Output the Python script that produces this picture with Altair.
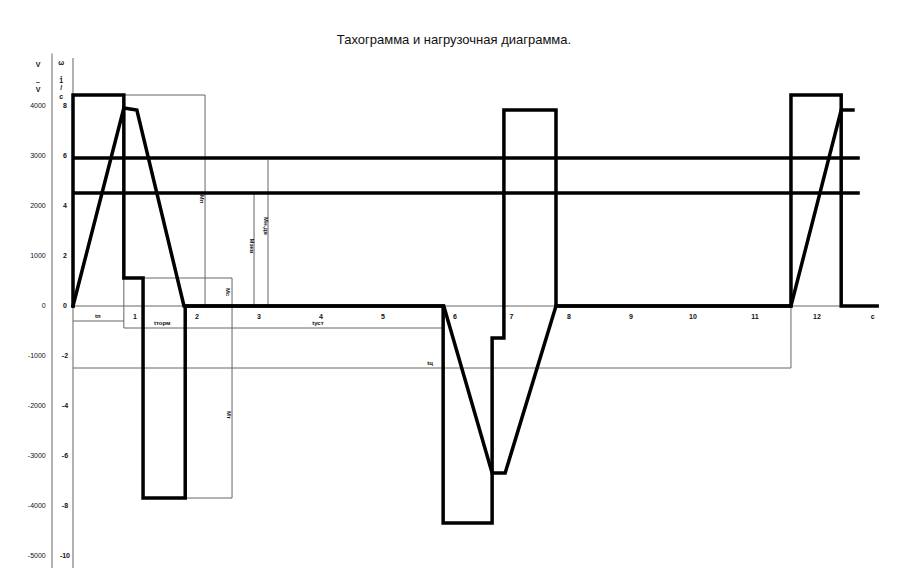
import altair as alt
import pandas as pd

# ---- data (time in s, vertical in chart units: 1 unit = 2 on the ω scale = 500 on the left scale)
torque_t = [0, 0, 0.82, 0.82, 1.13, 1.13, 1.81, 1.81, 5.97, 5.97, 6.76, 6.76, 6.95, 6.95,
            7.79, 7.79, 11.58, 11.58, 12.39, 12.39, 12.97]
torque_m = [0, 8.44, 8.44, 1.12, 1.12, -7.68, -7.68, 0, 0, -8.68, -8.68, -1.28, -1.28, 7.84,
            7.84, 0, 0, 8.44, 8.44, 0, 0]

speed_t = [0, 0.82, 1.03, 1.79, 5.98, 6.76, 6.97, 7.79, 11.58, 12.39, 12.58]
speed_w = [0, 7.92, 7.84, 0, 0, -6.68, -6.68, 0, 0, 7.84, 7.84]

level_vals = [5.92, 4.52]
level_end = 12.69

# thin dimension / axis lines
seg_x1 = [0, 0.82, 0.82, 0, 11.58, 0.82, 2.13, 1.13, 2.565, 1.81, 2.92, 3.145, 0, 0, -0.3387]
seg_y1 = [-0.6, 1.12, -0.88, -2.48, 0, 8.44, 8.44, 1.12, 1.12, -7.68, 4.52, 5.84, 0, 9.92, 10.1]
seg_x2 = [0.82, 0.82, 5.97, 11.58, 11.58, 2.13, 2.13, 2.565, 2.565, 2.565, 2.92, 3.145, 13.0, 0, -0.3387]
seg_y2 = [-0.6, -0.88, -0.88, -2.48, -2.48, 8.44, 0, 1.12, -7.68, -7.68, 0, 0, 0, -10.48, -10.48]

# time tick labels
xtick_pos = [1, 2, 3, 4, 5, 6.16, 7.07, 8, 9, 10, 11, 12, 12.9]
xtick_txt = ["1", "2", "3", "4", "5", "6", "7", "8", "9", "10", "11", "12", "c"]

# scale labels
w_vals = [8, 6, 4, 2, 0, -2, -4, -6, -8, -10]
w_txt = ["8", "6", "4", "2", "0", "-2", "-4", "-6", "-8", "-10"]
v_txt = ["4000", "3000", "2000", "1000", "0", "-1000", "-2000", "-3000", "-4000", "-5000"]

# dimension labels (horizontal)
dim_x = [0.4, 1.44, 3.95, 5.76]
dim_y = [-0.5, -0.78, -0.78, -2.4]
dim_txt = ["tп", "tторм", "tуст", "tц"]

# dimension labels (rotated)
rot_x = [2.08, 2.5, 2.51, 2.88, 3.12]
rot_y = [4.28, 0.56, -4.36, 2.4, 3.2]
rot_txt = ["Мп", "Мс", "Мт", "Мэкв", "Мн.дв"]

# stacked axis titles
ttl1_y = [9.64, 8.96, 8.64]
ttl1_txt = ["V", "–", "V"]
ttl2_y = [9.72, 9.24, 9.0, 8.72, 8.36]
ttl2_txt = ["ω", ",", "1", "/", "c"]

title_txt = "Тахограмма и нагрузочная диаграмма."

FONT = "Liberation Sans"
xs = alt.Scale(domain=[-0.3387, 13.016], nice=False, zero=False)
ys = alt.Scale(domain=[-10.48, 9.92], nice=False, zero=False)

def X(f):
    return alt.X(f, type="quantitative", scale=xs, axis=None)

def Y(f):
    return alt.Y(f, type="quantitative", scale=ys, axis=None)

torque_df = pd.DataFrame({"t": torque_t, "v": torque_m, "i": range(len(torque_t))})
speed_df = pd.DataFrame({"t": speed_t, "v": speed_w, "i": range(len(speed_t))})
level_df = pd.DataFrame({"y": level_vals, "x1": [0] * len(level_vals), "x2": [level_end] * len(level_vals)})
seg_df = pd.DataFrame({"x1": seg_x1, "y1": seg_y1, "x2": seg_x2, "y2": seg_y2})
xt_df = pd.DataFrame({"x": xtick_pos, "y": [-0.42] * len(xtick_pos), "t": xtick_txt})
w_df = pd.DataFrame({"x": [-0.13] * len(w_vals), "y": w_vals, "t": w_txt})
v_df = pd.DataFrame({"x": [-0.44] * len(w_vals), "y": w_vals, "t": v_txt})
dim_df = pd.DataFrame({"x": dim_x, "y": dim_y, "t": dim_txt})
rot_df = pd.DataFrame({"x": rot_x, "y": rot_y, "t": rot_txt})
t1_df = pd.DataFrame({"x": [-0.565] * len(ttl1_y), "y": ttl1_y, "t": ttl1_txt})
t2_df = pd.DataFrame({"x": [-0.19] * len(ttl2_y), "y": ttl2_y, "t": ttl2_txt})
title_df = pd.DataFrame({"x": [6.145], "y": [10.64], "t": [title_txt]})

thin = alt.Chart(seg_df).mark_rule(color="#666666", strokeWidth=1).encode(
    x=X("x1"), y=Y("y1"), x2="x2", y2="y2"
)

levels = alt.Chart(level_df).mark_rule(color="black", strokeWidth=3.5).encode(
    x=X("x1"), x2="x2", y=Y("y")
)

torque = alt.Chart(torque_df).mark_line(color="black", strokeWidth=3.5, strokeJoin="miter",
                                        strokeCap="square").encode(
    x=X("t"), y=Y("v"), order="i:Q"
)
speed = alt.Chart(speed_df).mark_line(color="black", strokeWidth=3.5, strokeJoin="miter",
                                      strokeCap="square").encode(
    x=X("t"), y=Y("v"), order="i:Q"
)

def txt(df, size=7, **kw):
    return alt.Chart(df).mark_text(font=FONT, fontSize=size, color="#111111", **kw).encode(
        x=X("x"), y=Y("y"), text="t:N"
    )

layers = [
    thin, levels, speed, torque,
    txt(xt_df, 7, fontWeight="bold"),
    txt(w_df, 7, fontWeight="bold"),
    txt(v_df, 7, align="right"),
    txt(dim_df, 6, fontWeight="bold", baseline="bottom"),
    txt(rot_df, 6, angle=90, fontWeight="bold"),
    txt(t1_df, 7, fontWeight="bold"),
    txt(t2_df, 7, fontWeight="bold"),
    txt(title_df, 13),
]

chart = alt.layer(*layers).properties(
    width=828, height=510,
    padding={"left": 44, "top": 50, "right": 20, "bottom": 2},
    autosize=alt.AutoSizeParams(type="none"),
    background="white",
).configure_view(stroke=None)

chart.save("out.html", embed_options={"renderer": "svg", "actions": False})
